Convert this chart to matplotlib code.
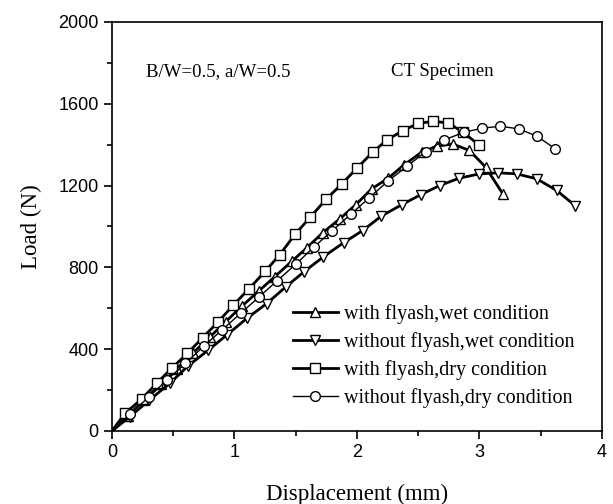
import matplotlib
matplotlib.use("Agg")
import matplotlib.pyplot as plt

# Data
x_fw_wet = [0.0, 0.13, 0.26, 0.40, 0.53, 0.66, 0.80, 0.93, 1.06, 1.20, 1.33, 1.467, 1.59, 1.72, 1.86,
            1.99, 2.12, 2.256, 2.384, 2.528, 2.65, 2.78, 2.917, 3.05, 3.19]
y_fw_wet = [0, 75, 150, 230, 305, 380, 460, 535, 610, 685, 755, 829, 895, 969, 1037,
            1106, 1184, 1236, 1301, 1363, 1392, 1403, 1372, 1290, 1160]

x_wo_wet = [0.0, 0.147, 0.305, 0.473, 0.623, 0.786, 0.935, 1.10, 1.263, 1.418, 1.567, 1.725, 1.89,
            2.047, 2.20, 2.365, 2.52, 2.676, 2.835, 3.00, 3.154, 3.304, 3.467, 3.63, 3.78]
y_wo_wet = [0, 70, 151, 233, 319, 395, 468, 550, 623, 704, 778, 851, 920,
            980, 1051, 1106, 1155, 1200, 1236, 1257, 1262, 1257, 1233, 1176, 1102]

x_fw_dry = [0.0, 0.106, 0.242, 0.365, 0.487, 0.615, 0.740, 0.868, 0.99, 1.12, 1.25, 1.37, 1.494,
            1.62, 1.747, 1.875, 2.00, 2.128, 2.248, 2.373, 2.50, 2.623, 2.745, 2.868, 2.996]
y_fw_dry = [0, 86, 156, 233, 306, 379, 456, 534, 615, 696, 780, 862, 961,
            1046, 1132, 1207, 1285, 1363, 1424, 1468, 1504, 1514, 1506, 1460, 1398]

x_wo_dry = [0.0, 0.15, 0.30, 0.45, 0.60, 0.75, 0.90, 1.05, 1.20, 1.35, 1.50, 1.65, 1.80, 1.95,
            2.10, 2.25, 2.41, 2.56, 2.71, 2.87, 3.02, 3.17, 3.32, 3.47, 3.62]
y_wo_dry = [0, 85, 165, 250, 330, 415, 495, 575, 655, 735, 815, 900, 980, 1060,
            1140, 1220, 1295, 1365, 1422, 1460, 1480, 1490, 1477, 1441, 1379]

labels = ["with flyash,wet condition", "without flyash,wet condition",
          "with flyash,dry condition", "without flyash,dry condition"]

x_ticks = [0, 1, 2, 3, 4]
y_ticks = [0, 400, 800, 1200, 1600, 2000]

serif = "Liberation Serif"
sans = "Liberation Sans"

fig = plt.figure(figsize=(6.13, 5.04), dpi=100)
ax = fig.add_axes([0.1827, 0.145, 0.7993, 0.8115])

common = dict(color="black", markerfacecolor="white", markeredgecolor="black",
              markersize=7, markeredgewidth=1.0, markevery=slice(1, None))
ax.plot(x_fw_wet, y_fw_wet, marker="^", linewidth=2.0, label=labels[0], **common)
ax.plot(x_wo_wet, y_wo_wet, marker="v", linewidth=2.0, label=labels[1], **common)
ax.plot(x_fw_dry, y_fw_dry, marker="s", linewidth=2.0, label=labels[2], **common)
ax.plot(x_wo_dry, y_wo_dry, marker="o", linewidth=1.0, label=labels[3], **common)

ax.set_xlim(0, 4)
ax.set_ylim(0, 2000)
ax.set_xticks(x_ticks)
ax.set_yticks(y_ticks)
ax.set_xticks([0.5, 1.5, 2.5, 3.5], minor=True)
ax.set_yticks([200, 600, 1000, 1400, 1800], minor=True)
ax.tick_params(which="both", direction="out", top=False, right=False, width=1.2)
ax.tick_params(which="major", length=6, labelsize=13)
ax.tick_params(which="minor", length=3.5)
for lab in ax.get_xticklabels() + ax.get_yticklabels():
    lab.set_fontfamily(sans)
for sp in ax.spines.values():
    sp.set_linewidth(1.2)

ax.set_xlabel("Displacement (mm)", fontfamily=serif, fontsize=16.5, labelpad=16)
ax.set_ylabel("Load (N)", fontfamily=serif, fontsize=16.5, labelpad=12)

ax.text(0.07, 0.878, "B/W=0.5, a/W=0.5", transform=ax.transAxes,
        fontfamily=serif, fontsize=13.5, va="center")
ax.text(0.57, 0.878, "CT Specimen", transform=ax.transAxes,
        fontfamily=serif, fontsize=13.5, va="center")

leg = ax.legend(loc="upper left", bbox_to_anchor=(0.37, 0.31), frameon=False,
                prop={"family": serif, "size": 14.5}, handlelength=2.2,
                handletextpad=0.3, labelspacing=0.4, borderpad=0, borderaxespad=0)

fig.savefig("out.png", dpi=100)
